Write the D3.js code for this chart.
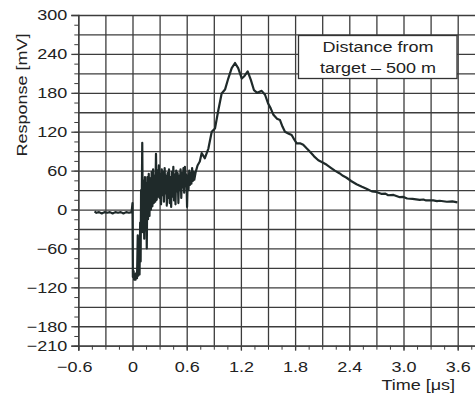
<!DOCTYPE html>
<html>
<head>
<meta charset="utf-8">
<script src="https://cdn.jsdelivr.net/npm/d3@7"></script>
<style>
  html, body { margin: 0; padding: 0; background: #fff; }
  text { font-family: "Liberation Sans", Arial, sans-serif; font-size: 15px; fill: #222; }
</style>
</head>
<body>
<svg id="chart"></svg>
<script>
// size
const width = 475;
const height = 394;

// boundaries (plot area runs off the right edge of the picture)
const margin = { top: 15, left: 78.3 };
const plotBottom = 345.7;
const plotRight = 484.8;

// the font in the picture is wide, so text gets stretched a little
const stretch = 1.2;

// data: time [us] and response [mV]
const timeUs = [
  -0.42, -0.40, -0.37, -0.34, -0.31, -0.28, -0.25, -0.22, -0.19, -0.16, -0.13, -0.10, -0.07, -0.04, -0.01,
  0.000, 0.004, 0.012, 0.018, 0.026, 0.034, 0.042, 0.050, 0.058, 0.064, 0.070, 0.078, 0.085, 0.090, 0.095,
  0.100, 0.108, 0.115, 0.122, 0.130, 0.138, 0.146, 0.152, 0.158, 0.165, 0.172, 0.180, 0.188, 0.196, 0.204,
  0.212, 0.220, 0.228, 0.236, 0.244, 0.252, 0.260, 0.268, 0.276, 0.284, 0.292, 0.300, 0.308, 0.316, 0.324,
  0.332, 0.340, 0.348, 0.356, 0.364, 0.372, 0.380, 0.388, 0.396, 0.404, 0.412, 0.420, 0.428, 0.436, 0.444,
  0.452, 0.460, 0.468, 0.476, 0.484, 0.492, 0.500, 0.508, 0.516, 0.524, 0.532, 0.540, 0.548, 0.556, 0.564,
  0.572, 0.580, 0.588, 0.596, 0.604, 0.612, 0.620, 0.628, 0.636, 0.644, 0.652, 0.660, 0.668, 0.676, 0.684,
  0.692, 0.700, 0.720, 0.745, 0.766, 0.800, 0.840, 0.877, 0.913, 0.950, 0.987, 1.024, 1.060, 1.098, 1.135,
  1.170, 1.210, 1.240, 1.275, 1.310, 1.345, 1.380, 1.430, 1.467, 1.500, 1.530, 1.560, 1.600, 1.633, 1.660,
  1.688, 1.730, 1.762, 1.790, 1.818, 1.860, 1.890, 1.930, 1.965, 2.010, 2.057, 2.100, 2.150, 2.200, 2.240,
  2.290, 2.330, 2.370, 2.420, 2.480, 2.540, 2.590, 2.650, 2.700, 2.760, 2.800, 2.830, 2.890, 2.960, 3.000,
  3.040, 3.100, 3.180, 3.220, 3.250, 3.330, 3.370, 3.400, 3.480, 3.540, 3.597
];
const responseMv = [
  -3, -5, -4, -6, -4, -5, -4, -6, -4, -5, -4, -6, -4, -5, -4,
  10, -104, -95, -108, -100, -108, -98, -106, -40, -102, -95, -100, -20, -80, 30,
  -25, 103, -35, 45, -45, 50, -32, 40, -60, 50, -15, 55, -10, 48, 0,
  58, 5, 62, 10, 52, 12, 86, 15, 60, 20, 68, 18, 55, 8, 62,
  22, 58, 12, 64, 25, 52, 6, 56, 18, 62, 10, 50, 4, 58, 20,
  66, 14, 54, 8, 60, 28, 56, 10, 52, 30, 62, 18, 56, 34, 64,
  26, 66, 36, 54, 4, 52, 30, 60, 38, 56, 40, 64, 44, 58, 46,
  52, 58, 68, 74, 87, 79, 94, 120, 125, 153, 179, 185, 202, 218, 226,
  218, 202, 206, 213, 200, 184, 180, 183, 177, 164, 156, 146, 140, 138, 128,
  120, 117, 115, 108, 102, 102, 100, 94, 89, 82, 76, 73, 69, 64, 60,
  56, 52, 49, 44, 39, 35, 32, 28, 27, 24, 24.5, 22, 22.5, 19, 19.5,
  17, 16.5, 15, 15.5, 14, 14, 13, 13.5, 12, 12.5, 11
];

// tick labels
const xLabelValues = [-0.6, 0, 0.6, 1.2, 1.8, 2.4, 3.0, 3.6];
const xLabelTexts = ["\u22120.6", "0", "0.6", "1.2", "1.8", "2.4", "3.0", "3.6"];
const yLabelValues = [300, 240, 180, 120, 60, 0, -60, -120, -180, -210];
const yLabelTexts = ["300", "240", "180", "120", "60", "0", "\u221260", "\u2212120", "\u2212180", "\u2212210"];

// grid steps
const xGridSteps = d3.range(-2, 14).map(i => +(i * 0.3).toFixed(2));
const xMinorSteps = d3.range(-4, 27).map(i => +(i * 0.15).toFixed(2));
const yGridSteps = d3.range(-7, 11).map(i => i * 30);
const yMinorSteps = d3.range(-14, 21).map(i => i * 15);

const gridColor = "#3c3c3c";

const svg = d3.select("#chart")
    .attr("width", width)
    .attr("height", height);

svg.append("rect")
    .attr("width", width)
    .attr("height", height)
    .attr("fill", "#fff");

// scales
const xScale = d3.scaleLinear()
    .domain([-0.6, 3.9])
    .range([margin.left, plotRight]);
const yScale = d3.scaleLinear()
    .domain([-210, 300])
    .range([plotBottom, margin.top]);

// grid lines
svg.append("g")
    .attr("class", "x-grid")
    .attr("transform", `translate(0,${plotBottom})`)
    .call(d3.axisBottom(xScale)
        .tickValues(xGridSteps)
        .tickSize(-(plotBottom - margin.top))
        .tickFormat(""))
    .call(g => g.select(".domain").remove())
    .call(g => g.selectAll("line").attr("stroke", gridColor).attr("stroke-width", 1.3));

svg.append("g")
    .attr("class", "y-grid")
    .attr("transform", `translate(${margin.left},0)`)
    .call(d3.axisLeft(yScale)
        .tickValues(yGridSteps)
        .tickSize(-(plotRight - margin.left))
        .tickFormat(""))
    .call(g => g.select(".domain").remove())
    .call(g => g.selectAll("line").attr("stroke", gridColor).attr("stroke-width", 1.3));

// minor ticks
svg.append("g")
    .attr("transform", `translate(0,${plotBottom})`)
    .call(d3.axisBottom(xScale).tickValues(xMinorSteps).tickSize(4).tickFormat(""))
    .call(g => g.select(".domain").remove())
    .call(g => g.selectAll("line").attr("stroke", gridColor));

svg.append("g")
    .attr("transform", `translate(${margin.left},0)`)
    .call(d3.axisLeft(yScale).tickValues(yMinorSteps).tickSize(4).tickFormat(""))
    .call(g => g.select(".domain").remove())
    .call(g => g.selectAll("line").attr("stroke", gridColor));

// labelled axes
svg.append("g")
    .attr("class", "x-axis")
    .attr("transform", `translate(0,${plotBottom})`)
    .call(d3.axisBottom(xScale)
        .tickValues(xLabelValues)
        .tickSize(5)
        .tickPadding(11)
        .tickFormat((d, i) => xLabelTexts[i]))
    .call(g => g.select(".domain").attr("stroke", gridColor).attr("stroke-width", 1.3))
    .call(g => g.selectAll("line").attr("stroke", gridColor).attr("stroke-width", 1.3))
    .call(g => g.selectAll("text")
        .attr("font-family", null)
        .attr("font-size", null)
        .attr("fill", "#222")
        .attr("x", d => d < 0 ? -4 / stretch : 0)
        .attr("transform", `scale(${stretch},1)`));

svg.append("g")
    .attr("class", "y-axis")
    .attr("transform", `translate(${margin.left},0)`)
    .call(d3.axisLeft(yScale)
        .tickValues(yLabelValues)
        .tickSize(7)
        .tickPadding(4)
        .tickFormat((d, i) => yLabelTexts[i]))
    .call(g => g.select(".domain").attr("stroke", gridColor).attr("stroke-width", 1.3))
    .call(g => g.selectAll("line").attr("stroke", gridColor).attr("stroke-width", 1.3))
    .call(g => g.selectAll("text")
        .attr("font-family", null)
        .attr("font-size", null)
        .attr("fill", "#222")
        .attr("x", -11 / stretch)
        .attr("transform", `scale(${stretch},1)`));

// axis titles
svg.append("text")
    .attr("text-anchor", "middle")
    .attr("transform", `translate(27,95) rotate(-90) scale(${stretch},1)`)
    .text("Response [mV]");

svg.append("text")
    .attr("text-anchor", "end")
    .attr("transform", `translate(455,390) scale(${stretch},1)`)
    .text("Time [\u03bcs]");

// response trace
const points = timeUs.map((t, i) => [t, responseMv[i]]);
const line = d3.line()
    .x(d => xScale(d[0]))
    .y(d => yScale(d[1]));

svg.append("path")
    .datum(points)
    .attr("d", line)
    .attr("fill", "none")
    .attr("stroke", "#1f2a2a")
    .attr("stroke-width", 2.2)
    .attr("stroke-linejoin", "round");

// note box
svg.append("rect")
    .attr("x", 298.5)
    .attr("y", 35.5)
    .attr("width", 158.5)
    .attr("height", 43)
    .attr("fill", "#fff")
    .attr("stroke", "#333")
    .attr("stroke-width", 1.3);

svg.append("text")
    .attr("text-anchor", "middle")
    .attr("transform", `translate(378,52) scale(${stretch},1)`)
    .text("Distance from");
svg.append("text")
    .attr("text-anchor", "middle")
    .attr("transform", `translate(378,73) scale(${stretch},1)`)
    .text("target \u2013 500 m");
</script>
</body>
</html>
